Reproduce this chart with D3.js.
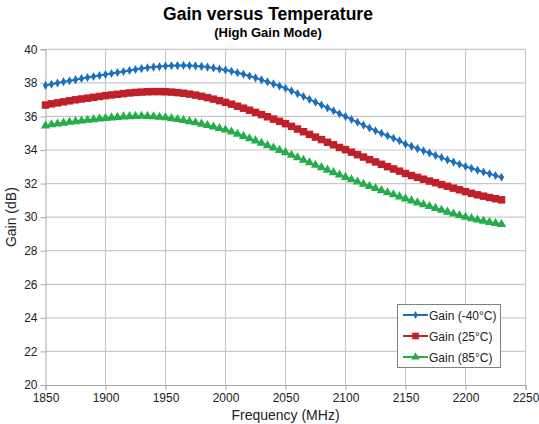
<!DOCTYPE html>
<html><head><meta charset="utf-8">
<script src="https://cdn.jsdelivr.net/npm/d3@7"></script>
<style>body{margin:0;background:#fff}svg{display:block;font-family:"Liberation Sans",Arial,sans-serif}</style>
</head><body><svg id="c" width="539" height="424"></svg>
<script>
const freqStart = 1850, freqStep = 5;
const gainMinus40 = [37.85,37.92,37.99,38.06,38.13,38.19,38.26,38.32,38.38,38.44,38.50,38.56,38.62,38.68,38.74,38.80,38.85,38.90,38.94,38.97,39.00,39.02,39.03,39.04,39.03,39.01,38.98,38.94,38.89,38.83,38.77,38.69,38.60,38.51,38.41,38.30,38.18,38.06,37.94,37.81,37.68,37.52,37.36,37.19,37.02,36.85,36.68,36.51,36.34,36.16,35.99,35.82,35.65,35.48,35.31,35.15,35.00,34.85,34.70,34.55,34.35,34.22,34.08,33.95,33.82,33.68,33.55,33.41,33.28,33.15,33.02,32.91,32.80,32.69,32.58,32.48,32.38];
const gain25 = [36.68,36.75,36.81,36.87,36.93,36.99,37.04,37.09,37.14,37.19,37.24,37.28,37.32,37.36,37.40,37.43,37.45,37.47,37.48,37.48,37.47,37.45,37.42,37.38,37.33,37.27,37.20,37.12,37.03,36.94,36.84,36.73,36.61,36.49,36.37,36.24,36.11,35.98,35.84,35.71,35.57,35.41,35.25,35.09,34.93,34.77,34.62,34.46,34.31,34.15,34.02,33.87,33.72,33.58,33.43,33.29,33.15,33.01,32.87,32.74,32.60,32.48,32.37,32.26,32.15,32.05,31.94,31.84,31.73,31.63,31.52,31.42,31.33,31.25,31.17,31.10,31.03];
const gain85 = [35.45,35.51,35.56,35.61,35.66,35.70,35.74,35.78,35.82,35.86,35.89,35.92,35.95,35.98,36.00,36.01,36.02,36.01,35.99,35.96,35.93,35.88,35.83,35.77,35.70,35.63,35.55,35.47,35.38,35.29,35.20,35.08,34.95,34.82,34.68,34.55,34.41,34.27,34.13,33.99,33.85,33.70,33.55,33.40,33.25,33.10,32.96,32.81,32.66,32.52,32.38,32.24,32.10,31.97,31.84,31.72,31.59,31.46,31.34,31.22,31.10,30.98,30.86,30.75,30.64,30.53,30.42,30.31,30.20,30.10,30.00,29.92,29.84,29.77,29.70,29.64,29.58];
const xTicks = [1850,1900,1950,2000,2050,2100,2150,2200,2250];
const yTicks = [20,22,24,26,28,30,32,34,36,38,40];
const seriesNames = ["Gain (-40°C)","Gain (25°C)","Gain (85°C)"];
const seriesColors = ["#1c6fbd","#c0202a","#25ad4b"];
const seriesSymbols = [d3.symbolDiamond, d3.symbolSquare, d3.symbolTriangle];
const seriesSizes = [24, 56, 38];

const freqs = gainMinus40.map((_, i) => freqStart + i * freqStep);
const series = [gainMinus40, gain25, gain85].map((vals, k) => ({
  name: seriesNames[k], color: seriesColors[k], symbol: seriesSymbols[k], size: seriesSizes[k],
  points: vals.map((v, i) => ({f: freqs[i], g: v}))
}));

const svg = d3.select("#c");
const L = 45.5, R = 525.5, T = 49.3, B = 385;
const x = d3.scaleLinear().domain([1850, 2250]).range([L, R]);
const y = d3.scaleLinear().domain([20, 40]).range([B, T]);

// grid
const g = svg.append("g");
g.selectAll(".vg").data(xTicks.slice(1)).join("line")
  .attr("x1", d => x(d)).attr("x2", d => x(d)).attr("y1", T).attr("y2", B)
  .attr("stroke", "#c8c8c8").attr("stroke-width", 1.2);
g.selectAll(".hg").data(yTicks.slice(1)).join("line")
  .attr("x1", L).attr("x2", R).attr("y1", d => y(d)).attr("y2", d => y(d))
  .attr("stroke", "#c8c8c8").attr("stroke-width", 1.2);

// axes
const yAxis = d3.axisLeft(y).tickValues(yTicks).tickSize(5).tickPadding(3);
const xAxis = d3.axisBottom(x).tickValues(xTicks).tickSize(5).tickPadding(3).tickFormat(d3.format("d"));
const ya = svg.append("g").attr("transform", `translate(${L},0)`).call(yAxis);
const xa = svg.append("g").attr("transform", `translate(0,${B})`).call(xAxis);
[ya, xa].forEach(a => {
  a.select(".domain").attr("stroke", "#a6a6a6");
  a.selectAll(".tick line").attr("stroke", "#a6a6a6");
  a.selectAll("text").attr("font-size", 12).attr("fill", "#222").attr("font-family", "Liberation Sans, Arial, sans-serif");
});

// series
series.forEach(s => {
  svg.append("path").datum(s.points)
    .attr("fill", "none").attr("stroke", s.color).attr("stroke-width", 2)
    .attr("d", d3.line().x(d => x(d.f)).y(d => y(d.g)));
  svg.append("g").selectAll("path").data(s.points).join("path")
    .attr("transform", d => `translate(${x(d.f)},${y(d.g)})`)
    .attr("d", d3.symbol().type(s.symbol).size(s.size))
    .attr("fill", s.color);
});

// titles
svg.append("text").attr("x", 268).attr("y", 20).attr("text-anchor", "middle")
  .attr("font-size", 17.5).attr("font-weight", "bold").attr("fill", "#000").text("Gain versus Temperature");
svg.append("text").attr("x", 268).attr("y", 37).attr("text-anchor", "middle")
  .attr("font-size", 13).attr("font-weight", "bold").attr("fill", "#000").text("(High Gain Mode)");
svg.append("text").attr("transform", `translate(16,${(T + B) / 2}) rotate(-90)`).attr("text-anchor", "middle")
  .attr("font-size", 14).attr("fill", "#222").text("Gain (dB)");
svg.append("text").attr("x", (L + R) / 2).attr("y", 420).attr("text-anchor", "middle")
  .attr("font-size", 14).attr("fill", "#222").text("Frequency (MHz)");

// legend
const lg = svg.append("g");
lg.append("rect").attr("x", 397.5).attr("y", 304.5).attr("width", 103).attr("height", 63)
  .attr("fill", "#fff").attr("stroke", "#808080").attr("stroke-width", 1);
series.forEach((s, i) => {
  const yy = 315 + i * 21;
  lg.append("line").attr("x1", 403).attr("x2", 428).attr("y1", yy).attr("y2", yy)
    .attr("stroke", s.color).attr("stroke-width", 2);
  lg.append("path").attr("transform", `translate(415.5,${yy})`)
    .attr("d", d3.symbol().type(s.symbol).size(s.size * 0.8)).attr("fill", s.color);
  lg.append("text").attr("x", 429).attr("y", yy + 4.5).attr("font-size", 12).attr("fill", "#222").text(s.name);
});
</script></body></html>
